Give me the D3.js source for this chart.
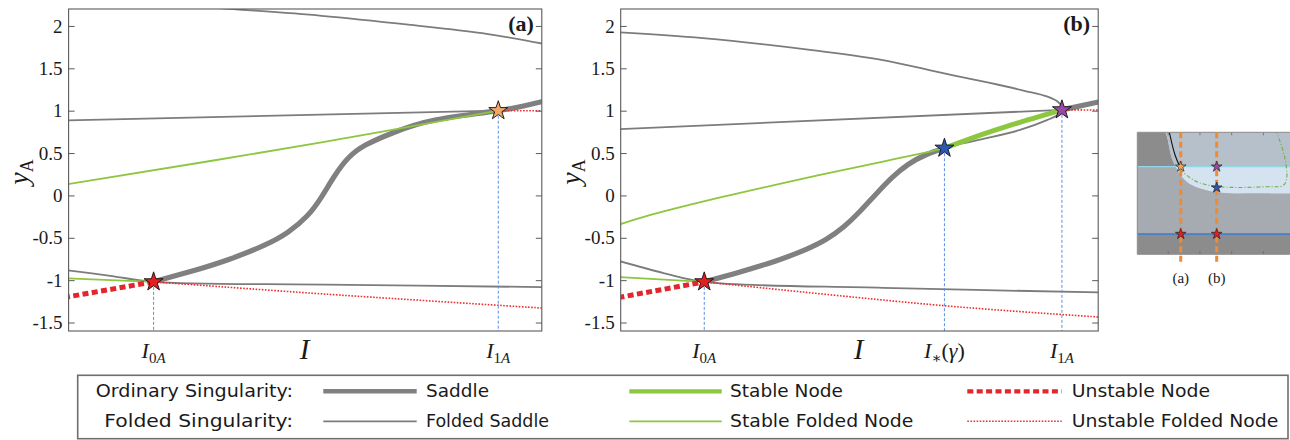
<!DOCTYPE html>
<html>
<head>
<meta charset="utf-8">
<script src="https://cdn.jsdelivr.net/npm/d3@7"></script>
<style>
  html, body { margin: 0; padding: 0; background: #fff; }
  svg { display: block; }
</style>
</head>
<body>
<svg id="fig" width="1290" height="440"></svg>
<script>
// ------------------------------------------------------------------
// Values: I is normalised so that I0A = 0 and I1A = 1 in each panel.
// Curves are [I, yA] pairs.
// ------------------------------------------------------------------
const yLimits = [-1.6, 2.2];
const yTicks = [-1.5, -1, -0.5, 0, 0.5, 1, 1.5, 2];
const yTickLabels = ["-1.5", "-1", "-0.5", "0", "0.5", "1", "1.5", "2"];

// panel (a)
const aLimitsI = [-0.2466, 1.1263];
const aTickI = [0, 1];
const aTickLabels = [{ sub: "0A" }, { sub: "1A" }];
const aFoldedSaddleTop = [[0.10, 2.238], [0.2176, 2.202], [0.487, 2.12], [0.746, 2.013], [0.953, 1.915], [1.13, 1.79]];
const aFoldedSaddleMid = [[-0.26, 0.884], [1.0, 1.0]];
const aFoldedSaddleLow = [[-0.26, -0.878], [-0.12, -0.952], [0, -1.02], [0.5, -1.052], [1.13, -1.082]];
const aStableFoldedTop = [[-0.26, 0.125], [0.487, 0.625], [1.0, 1.0]];
const aStableFoldedLow = [[-0.26, -0.978], [0, -1.02]];
const aSaddle = [[0, -1.02], [0.12, -0.883], [0.22, -0.753], [0.32, -0.59], [0.39, -0.433], [0.445, -0.243],
                 [0.485, -0.031], [0.525, 0.229], [0.565, 0.441], [0.615, 0.594], [0.695, 0.74], [0.82, 0.893],
                 [1.0, 1.0], [1.13, 1.11]];
const aUnstableNode = [[-0.26, -1.205], [0, -1.02]];
const aUnstableFoldedLow = [[0, -1.02], [0.5, -1.165], [1.13, -1.33]];
const aUnstableFoldedTop = [[1.0, 1.0], [1.13, 1.0]];
const aStars = [[0, -1.02, "#e3201f"], [1.0, 1.0, "#f2a765"]];

// panel (b)
const bLimitsI = [-0.2336, 1.1014];
const bTickI = [0, 0.6715, 1];
const bTickLabels = [{ sub: "0A" }, { sub: "*", tail: true }, { sub: "1A" }];
const bFoldedSaddleFold = [[-0.26, 1.93], [-0.004, 1.856], [0.2957, 1.718], [0.4955, 1.6], [0.6454, 1.463],
                           [0.7952, 1.33], [0.895, 1.235], [0.96, 1.165], [0.99, 1.10], [1.003, 1.02],
                           [0.99, 0.955], [0.958, 0.888], [0.883, 0.773], [0.79, 0.675], [0.715, 0.608], [0.6715, 0.557]];
const bFoldedSaddleMid = [[-0.26, 0.778], [1.0, 1.01]];
const bFoldedSaddleLow = [[-0.24, -0.772], [-0.114, -0.916], [0, -1.02], [0.5, -1.09], [1.11, -1.145]];
const bStableFoldedTop = [[-0.24, -0.346], [-0.15, -0.23], [-0.05, -0.12], [0.1, 0.03], [0.3236, 0.242],
                          [0.5, 0.40], [0.631, 0.517], [0.6715, 0.557]];
const bStableFoldedLow = [[-0.24, -0.962], [0, -1.02]];
const bStableNode = [[0.6715, 0.557], [0.75, 0.68], [0.835, 0.80], [0.92, 0.91], [1.0, 1.01]];
const bSaddle = [[0, -1.02], [0.10, -0.903], [0.20, -0.773], [0.28, -0.645], [0.34, -0.52], [0.39, -0.37],
                 [0.435, -0.19], [0.48, 0.015], [0.525, 0.21], [0.57, 0.365], [0.62, 0.48], [0.6715, 0.557]];
const bSaddleRight = [[1.0, 1.01], [1.11, 1.11]];
const bUnstableNode = [[-0.24, -1.205], [0, -1.02]];
const bUnstableFoldedLow = [[0, -1.02], [0.6715, -1.302], [1.11, -1.437]];
const bUnstableFoldedTop = [[1.0, 1.01], [1.11, 1.008]];
const bStars = [[0, -1.02, "#e3201f"], [0.6715, 0.557, "#2d57b4"], [1.0, 1.01, "#9c48a8"]];

// legend entries
const legendRows = ["Ordinary Singularity:", "Folded Singularity:"];
const legendKinds = [["saddle", "stableNode", "unstableNode"], ["foldedSaddle", "stableFolded", "unstableFolded"]];
const legendNames = [["Saddle", "Stable Node", "Unstable Node"], ["Folded Saddle", "Stable Folded Node", "Unstable Folded Node"]];

// small overview inset (unit square coordinates)
const insetCyanY = 0.718;
const insetBlueY = 0.166;
const insetLinesX = [0.267, 0.488];
const insetLabels = ["(a)", "(b)"];
const insetRegion = [[0.150, 1.0], [0.170, 1.0], [0.221, 0.759], [0.304, 0.595], [0.467, 0.513], [0.75, 0.50], [1.05, 0.50]];
const insetGreen = [[0.262, 0.693], [0.365, 0.595], [0.508, 0.554], [0.80, 0.554], [0.897, 0.565], [0.918, 0.623], [0.905, 0.80], [0.857, 1.0]];
const insetBlack = [[0.197, 1.0], [0.232, 0.814], [0.262, 0.718]];
const insetStars = [[0.267, 0.718, "#f2a765"], [0.488, 0.718, "#9c48a8"], [0.488, 0.546, "#2d57b4"],
                    [0.267, 0.166, "#e3201f"], [0.488, 0.166, "#e3201f"]];
const insetTicks = [0.19, 0.385, 0.58, 0.775, 0.97];

// ------------------------------------------------------------------
const svg = d3.select("#fig");
const PLOT_TOP = 9, PLOT_BOTTOM = 331;
const SERIF = "'Liberation Serif', 'DejaVu Serif', serif";
const SANS = "'DejaVu Sans', Verdana, sans-serif";

const styles = {
  saddle:        { stroke: "#808080", width: 5.2, dash: null },
  foldedSaddle:  { stroke: "#7c7c7c", width: 1.8, dash: null },
  stableNode:    { stroke: "#8dc63f", width: 5.0, dash: null },
  stableFolded:  { stroke: "#8dc63f", width: 1.8, dash: null },
  unstableNode:  { stroke: "#e3262b", width: 5.0, dash: "6 3.4" },
  unstableFolded:{ stroke: "#ee2f2f", width: 1.6, dash: "1.6 1.5" }
};
function applyStyle(sel, kind) {
  const s = styles[kind];
  sel.attr("fill", "none").attr("stroke", s.stroke).attr("stroke-width", s.width)
     .attr("stroke-linejoin", "round");
  if (s.dash) sel.attr("stroke-dasharray", s.dash);
  return sel;
}
function star(r) { return d3.symbol(d3.symbolStar, r * r / 0.8908130915292852)(); }

function drawPanel(cfg) {
  const x = d3.scaleLinear().domain(cfg.limits).range([cfg.left, cfg.right]);
  const y = d3.scaleLinear().domain(yLimits).range([PLOT_BOTTOM, PLOT_TOP]);
  const g = svg.append("g");
  const clipId = "clip-" + cfg.key;
  svg.append("clipPath").attr("id", clipId).append("rect")
    .attr("x", cfg.left).attr("y", PLOT_TOP)
    .attr("width", cfg.right - cfg.left).attr("height", PLOT_BOTTOM - PLOT_TOP);

  const line = d3.line().x(d => x(d[0])).y(d => y(d[1])).curve(d3.curveCatmullRom.alpha(0.5));
  const smooth = d3.line().x(d => x(d[0])).y(d => y(d[1])).curve(d3.curveNatural);
  const plot = g.append("g").attr("clip-path", `url(#${clipId})`);

  cfg.series.forEach(([data, kind]) => {
    const gen = kind === "saddle" && data.length > 3 ? smooth : line;
    applyStyle(plot.append("path").datum(data).attr("d", gen), kind);
  });

  // guide lines from the singularities down to the I axis
  cfg.stars.forEach(s => {
    plot.append("line")
      .attr("x1", x(s[0])).attr("x2", x(s[0]))
      .attr("y1", y(s[1])).attr("y2", y(yLimits[0]))
      .attr("stroke", "#5a8ee6").attr("stroke-width", 1).attr("stroke-dasharray", "3 2");
  });

  // box
  g.append("rect").attr("x", cfg.left).attr("y", PLOT_TOP)
    .attr("width", cfg.right - cfg.left).attr("height", PLOT_BOTTOM - PLOT_TOP)
    .attr("fill", "none").attr("stroke", "#5a5a5a").attr("stroke-width", 1.1);

  // y axes: labelled on the left, ticks only on the right
  const yl = g.append("g").attr("transform", `translate(${cfg.left},0)`)
    .call(d3.axisLeft(y).tickValues(yTicks).tickFormat((d, i) => yTickLabels[i])
      .tickSizeInner(-6).tickSizeOuter(0).tickPadding(6));
  yl.select(".domain").remove();
  yl.selectAll(".tick line").attr("stroke", "#5a5a5a");
  yl.selectAll(".tick text").attr("font-family", SERIF).attr("font-size", 19).attr("fill", "#1a1a1a");
  const yr = g.append("g").attr("transform", `translate(${cfg.right},0)`)
    .call(d3.axisRight(y).tickValues(yTicks).tickFormat("").tickSizeInner(-6).tickSizeOuter(0));
  yr.select(".domain").remove();
  yr.selectAll(".tick line").attr("stroke", "#5a5a5a");

  // I-axis tick labels
  cfg.ticks.forEach((t, i) => {
    const lab = cfg.tickLabels[i];
    const tx = g.append("text").attr("x", x(t)).attr("y", 358).attr("text-anchor", "middle")
      .attr("font-family", SERIF).attr("font-size", 22).attr("fill", "#1a1a1a");
    tx.append("tspan").attr("font-style", "italic").text("I");
    if (lab.sub === "*") {
      tx.append("tspan").attr("font-size", 15).attr("dy", 5).text("\u2217");
      tx.append("tspan").attr("dy", -5).text("(");
      tx.append("tspan").attr("font-style", "italic").text("\u03b3");
      tx.append("tspan").text(")");
    } else {
      tx.append("tspan").attr("font-size", 15).attr("dy", 5).text(lab.sub[0]);
      tx.append("tspan").attr("font-size", 15).attr("font-style", "italic").text(lab.sub.slice(1));
    }
  });

  // axis titles
  g.append("text").attr("x", cfg.iLabelX).attr("y", 359).attr("text-anchor", "middle")
    .attr("font-family", SERIF).attr("font-style", "italic").attr("font-size", 29)
    .attr("fill", "#1a1a1a").text("I");
  const yt = g.append("text").attr("transform", `translate(${cfg.yLabelX},172) rotate(-90)`)
    .attr("text-anchor", "middle").attr("font-family", SERIF).attr("font-size", 28).attr("fill", "#1a1a1a");
  yt.append("tspan").attr("font-style", "italic").text("y");
  yt.append("tspan").attr("font-size", 18).attr("dy", 5).text("A");

  // panel tag
  g.append("text").attr("x", cfg.right - 8).attr("y", 31).attr("text-anchor", "end")
    .attr("font-family", SERIF).attr("font-weight", "bold").attr("font-size", 22)
    .attr("fill", "#1a1a1a").text(cfg.tag);

  // singularity markers
  cfg.stars.forEach(s => {
    g.append("path").attr("d", star(10))
      .attr("transform", `translate(${x(s[0])},${y(s[1])})`)
      .attr("fill", s[2]).attr("stroke", "#111").attr("stroke-width", 0.9);
  });
}

drawPanel({
  key: "a", tag: "(a)", left: 68.6, right: 541.8, limits: aLimitsI,
  ticks: aTickI, tickLabels: aTickLabels, iLabelX: 304.6, yLabelX: 28,
  series: [
    [aFoldedSaddleTop, "foldedSaddle"], [aFoldedSaddleMid, "foldedSaddle"], [aFoldedSaddleLow, "foldedSaddle"],
    [aSaddle, "saddle"],
    [aStableFoldedTop, "stableFolded"], [aStableFoldedLow, "stableFolded"],
    [aUnstableNode, "unstableNode"],
    [aUnstableFoldedLow, "unstableFolded"], [aUnstableFoldedTop, "unstableFolded"]
  ],
  stars: aStars
});

drawPanel({
  key: "b", tag: "(b)", left: 620.7, right: 1098.2, limits: bLimitsI,
  ticks: bTickI, tickLabels: bTickLabels, iLabelX: 858.5, yLabelX: 580,
  series: [
    [bFoldedSaddleFold, "foldedSaddle"], [bFoldedSaddleMid, "foldedSaddle"], [bFoldedSaddleLow, "foldedSaddle"],
    [bSaddle, "saddle"], [bSaddleRight, "saddle"],
    [bStableFoldedTop, "stableFolded"], [bStableFoldedLow, "stableFolded"],
    [bStableNode, "stableNode"],
    [bUnstableNode, "unstableNode"],
    [bUnstableFoldedLow, "unstableFolded"], [bUnstableFoldedTop, "unstableFolded"]
  ],
  stars: bStars
});

// ------------------------------------------------------------------
// Legend
// ------------------------------------------------------------------
(function legend() {
  const g = svg.append("g");
  g.append("rect").attr("x", 77.7).attr("y", 375.3).attr("width", 1288 - 77.7).attr("height", 438.7 - 375.3)
    .attr("fill", "#fff").attr("stroke", "#6e6e6e").attr("stroke-width", 1.6);
  const rowY = [391.3, 421.3];
  const lineX = [[323.3, 416.7], [629.3, 721.7], [967.3, 1061.7]];
  const textX = [426, 730, 1071.7];
  const rowWidths = [197.3, 188.7];
  const nameWidths = [[63, 113, 138.3], [123, 183.3, 206.6]];
  legendRows.forEach((r, i) => {
    g.append("text").attr("x", 293).attr("y", rowY[i] + 6).attr("text-anchor", "end")
      .attr("font-family", SANS).attr("font-size", 18.5).attr("fill", "#1a1a1a")
      .attr("textLength", rowWidths[i]).attr("lengthAdjust", "spacingAndGlyphs").text(r);
    legendKinds[i].forEach((k, j) => {
      const ln = g.append("line").attr("x1", lineX[j][0]).attr("x2", lineX[j][1])
        .attr("y1", rowY[i]).attr("y2", rowY[i]);
      applyStyle(ln, k);
      if (i === 0) ln.attr("stroke-width", styles[k].width - 0.8);
      g.append("text").attr("x", textX[j]).attr("y", rowY[i] + 6)
        .attr("font-family", SANS).attr("font-size", 18.5).attr("fill", "#1a1a1a")
        .attr("textLength", nameWidths[i][j]).attr("lengthAdjust", "spacingAndGlyphs")
        .text(legendNames[i][j]);
    });
  });
})();

// ------------------------------------------------------------------
// Overview inset
// ------------------------------------------------------------------
(function inset() {
  const L = 1137.3, R = 1300, T = 132.3, B = 254.3;
  const x = d3.scaleLinear().domain([0, 1]).range([L, R]);
  const y = d3.scaleLinear().domain([0, 1]).range([B, T]);
  const g = svg.append("g");
  svg.append("clipPath").attr("id", "clip-inset").append("rect")
    .attr("x", L).attr("y", T).attr("width", R - L).attr("height", B - T);
  svg.append("clipPath").attr("id", "clip-inset-top").append("rect")
    .attr("x", L).attr("y", T).attr("width", R - L).attr("height", y(insetCyanY) - T);
  const body = g.append("g").attr("clip-path", "url(#clip-inset)");
  body.append("rect").attr("x", L).attr("y", T).attr("width", R - L).attr("height", B - T).attr("fill", "#8c8c8c");
  body.append("rect").attr("x", L).attr("y", y(insetCyanY)).attr("width", R - L)
    .attr("height", y(insetBlueY) - y(insetCyanY)).attr("fill", "#a6aab1");

  const area = d3.line().x(d => x(d[0])).y(d => y(d[1])).curve(d3.curveCatmullRom.alpha(0.5));
  const regionPath = area(insetRegion) + `L${x(1.05)},${y(1.05)}L${x(0.15)},${y(1.05)}Z`;
  body.append("path").attr("d", regionPath).attr("fill", "#d5e3f0");
  body.append("g").attr("clip-path", "url(#clip-inset-top)")
    .append("path").attr("d", regionPath).attr("fill", "#b6c0cb");

  body.append("line").attr("x1", L).attr("x2", R).attr("y1", y(insetCyanY)).attr("y2", y(insetCyanY))
    .attr("stroke", "#8fd6e6").attr("stroke-width", 1.2);
  body.append("line").attr("x1", L).attr("x2", R).attr("y1", y(insetBlueY)).attr("y2", y(insetBlueY))
    .attr("stroke", "#3b7bd6").attr("stroke-width", 1.5);
  body.append("path").datum(insetGreen).attr("d", area).attr("fill", "none")
    .attr("stroke", "#6fae45").attr("stroke-width", 1.1).attr("stroke-dasharray", "4 2 1 2");
  body.append("path").datum(insetBlack).attr("d", area).attr("fill", "none")
    .attr("stroke", "#111").attr("stroke-width", 1.1);

  // frame ticks
  insetTicks.forEach(t => {
    body.append("line").attr("x1", x(t)).attr("x2", x(t)).attr("y1", T).attr("y2", T + 3)
      .attr("stroke", "#666").attr("stroke-width", 0.8);
    body.append("line").attr("x1", x(t)).attr("x2", x(t)).attr("y1", B).attr("y2", B - 3)
      .attr("stroke", "#666").attr("stroke-width", 0.8);
  });
  g.append("path").attr("d", `M${R},${T}H${L}V${B}H${R}`).attr("fill", "none")
    .attr("stroke", "#8a8a8a").attr("stroke-width", 1);

  insetLinesX.forEach((lx, i) => {
    g.append("line").attr("x1", x(lx)).attr("x2", x(lx)).attr("y1", T).attr("y2", y(-0.09))
      .attr("stroke", "#ef8a35").attr("stroke-width", 3).attr("stroke-dasharray", "6 3.5");
    g.append("text").attr("x", x(lx)).attr("y", 283).attr("text-anchor", "middle")
      .attr("font-family", SERIF).attr("font-size", 15).attr("fill", "#1a1a1a").text(insetLabels[i]);
  });
  insetStars.forEach(s => {
    g.append("path").attr("d", star(5.6)).attr("transform", `translate(${x(s[0])},${y(s[1])})`)
      .attr("fill", s[2]).attr("stroke", "#222").attr("stroke-width", 0.7);
  });
})();
</script>
</body>
</html>
